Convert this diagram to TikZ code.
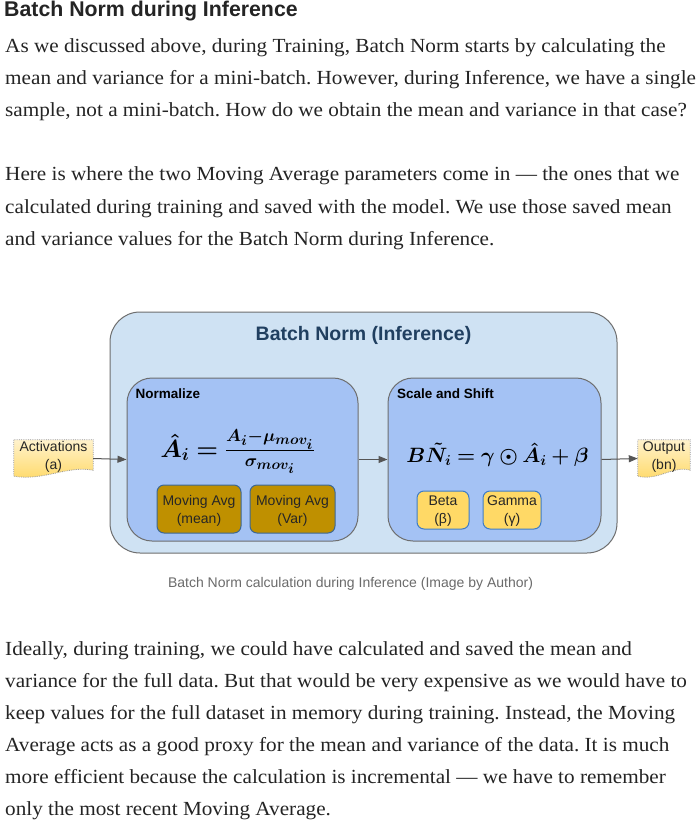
\documentclass[tikz,border=0pt]{standalone}
\usepackage[no-math]{fontspec}
\usepackage{amsmath,bm}
\usetikzlibrary{arrows.meta,calc}
\setmainfont[FakeStretch=1.06]{Liberation Serif}
\newfontfamily\dsans{Liberation Sans}
\definecolor{txt}{HTML}{242424}
\definecolor{captxt}{HTML}{6B6B6B}
\definecolor{outerfill}{HTML}{CFE2F3}
\definecolor{innerfill}{HTML}{A4C2F4}
\definecolor{boxline}{HTML}{6E6E6E}
\definecolor{goldfill}{HTML}{BF9000}
\definecolor{goldline}{HTML}{3B6796}
\definecolor{yelfill}{HTML}{FFD966}
\definecolor{yelline}{HTML}{3D7CC9}
\definecolor{doctop}{HTML}{FFF2CC}
\definecolor{docbot}{HTML}{FFD966}
\definecolor{titlecol}{HTML}{203F60}
\definecolor{arrowcol}{HTML}{555555}
\frenchspacing
\begin{document}
\begin{tikzpicture}[x=1pt,y=-1pt,
  bodyline/.style={anchor=base west, inner sep=0pt, text=txt, font=\fontsize{20}{24}\selectfont},
  outerbox/.style={draw=boxline, line width=1pt, fill=outerfill, rounded corners=30pt},
  innerbox/.style={draw=boxline, line width=1pt, fill=innerfill, rounded corners=25pt},
  boxlabel/.style={anchor=north west, inner sep=0pt, font=\dsans\bfseries\fontsize{13.5}{15}\selectfont, text=black},
  goldbox/.style={draw=goldline, line width=1pt, fill=goldfill, rounded corners=7pt, inner sep=0pt},
  yelbox/.style={draw=yelline, line width=1pt, fill=yelfill, rounded corners=7pt, inner sep=0pt},
  boxtext/.style={inner sep=0pt, align=center, font=\dsans\fontsize{14}{18}\selectfont, text=black!85},
  docnode/.style={inner sep=0pt},
  docshape/.style={top color=doctop, bottom color=docbot, draw=gray!80, densely dotted, line width=0.8pt},
  conn/.style={draw=arrowcol, line width=1pt, -{Triangle[length=9pt,width=7pt]}}
]
\useasboundingbox (0,0) rectangle (696,829);
\fill[white] (0,0) rectangle (696,829);

% heading and first paragraphs
\node[anchor=base west, inner sep=0pt, text=txt, font=\dsans\bfseries\fontsize{21.3}{24}\selectfont] (head) at (4,16.5) {Batch Norm during Inference};
\node[bodyline] (p1) at (5,53) {As we discussed above, during Training, Batch Norm starts by calculating the};
\node[bodyline] (p2) at (5,85) {mean and variance for a mini-batch. However, during Inference, we have a single};
\node[bodyline] (p3) at (5,117) {sample, not a mini-batch. How do we obtain the mean and variance in that case?};
\node[bodyline] (p4) at (5,181) {Here is where the two Moving Average parameters come in — the ones that we};
\node[bodyline] (p5) at (5,213) {calculated during training and saved with the model. We use those saved mean};
\node[bodyline] (p6) at (5,245) {and variance values for the Batch Norm during Inference.};

% diagram
\node[outerbox, minimum width=507pt, minimum height=241pt] (bn) at (363.5,432.5) {};
\node[inner sep=0pt, text=titlecol, font=\dsans\bfseries\fontsize{19.5}{22}\selectfont] (title) at (363.5,335.5) {Batch Norm (Inference)};

\node[innerbox, minimum width=231pt, minimum height=163pt] (norm) at (242.5,459.5) {};
\node[innerbox, minimum width=213pt, minimum height=163pt] (scale) at (494.5,459.5) {};
\node[boxlabel] (normlbl) at (135.5,389) {Normalize};
\node[boxlabel] (scalelbl) at (397,389) {Scale and Shift};

\node[inner sep=0pt] (f1) at (237.5,452) {\fontsize{27}{31}\selectfont$\bm{\hat{A}_i = \frac{A_i - \mu_{mov_i}}{\sigma_{mov_i}}}$};
\node[inner sep=0pt] (f2) at (497.5,455) {\fontsize{21.6}{26}\selectfont$\bm{B\tilde{N}_i = \gamma \odot \hat{A}_i + \beta}$};

\node[goldbox, minimum width=84pt, minimum height=48pt] (mmean) at (199,509) {};
\node[boxtext] (mmeantxt) at ([yshift=-2pt]mmean.center) {Moving Avg\\(mean)};
\node[goldbox, minimum width=85pt, minimum height=48pt] (mvar) at (292.5,509) {};
\node[boxtext] (mvartxt) at ([yshift=-2pt]mvar.center) {Moving Avg\\(Var)};
\node[yelbox, minimum width=52pt, minimum height=38pt] (beta) at (443,510) {};
\node[boxtext] (betatxt) at ([yshift=-1pt]beta.center) {Beta\\(β)};
\node[yelbox, minimum width=58pt, minimum height=38pt] (gamma) at (512,510) {};
\node[boxtext] (gammatxt) at ([yshift=-1pt]gamma.center) {Gamma\\(γ)};

% document-shaped input / output
\node[docnode, minimum width=79pt, minimum height=37pt] (act) at (53.5,458.5) {};
\shade[docshape] (act.north west) -- (act.north east) -- ([yshift=7pt]act.south east)
  .. controls ([xshift=-26pt,yshift=12pt]act.south east) and ([xshift=30pt,yshift=-4pt]act.south west) .. ([yshift=1pt]act.south west) -- cycle;
\node[boxtext] (actlbl) at ([yshift=1.5pt]act.center) {Activations\\(a)};

\node[docnode, minimum width=52pt, minimum height=37pt] (out) at (664,458.5) {};
\shade[docshape] (out.north west) -- (out.north east) -- ([yshift=7pt]out.south east)
  .. controls ([xshift=-17pt,yshift=12pt]out.south east) and ([xshift=20pt,yshift=-4pt]out.south west) .. ([yshift=1pt]out.south west) -- cycle;
\node[boxtext] (outlbl) at ([yshift=1.5pt]out.center) {Output\\(bn)};

\draw[conn] (act.east) -- (norm.west);
\draw[conn] (norm.east) -- (scale.west);
\draw[conn] (scale.east) -- (out.west);

\node[inner sep=0pt, text=captxt, font=\dsans\fontsize{14}{16}\selectfont] (caption) at (350.5,584) {Batch Norm calculation during Inference (Image by Author)};

% last paragraph
\node[bodyline] (q1) at (5,655) {Ideally, during training, we could have calculated and saved the mean and};
\node[bodyline] (q2) at (5,687) {variance for the full data. But that would be very expensive as we would have to};
\node[bodyline] (q3) at (5,719) {keep values for the full dataset in memory during training. Instead, the Moving};
\node[bodyline] (q4) at (5,751) {Average acts as a good proxy for the mean and variance of the data. It is much};
\node[bodyline] (q5) at (5,783) {more efficient because the calculation is incremental — we have to remember};
\node[bodyline] (q6) at (5,815) {only the most recent Moving Average.};
\end{tikzpicture}
\end{document}
